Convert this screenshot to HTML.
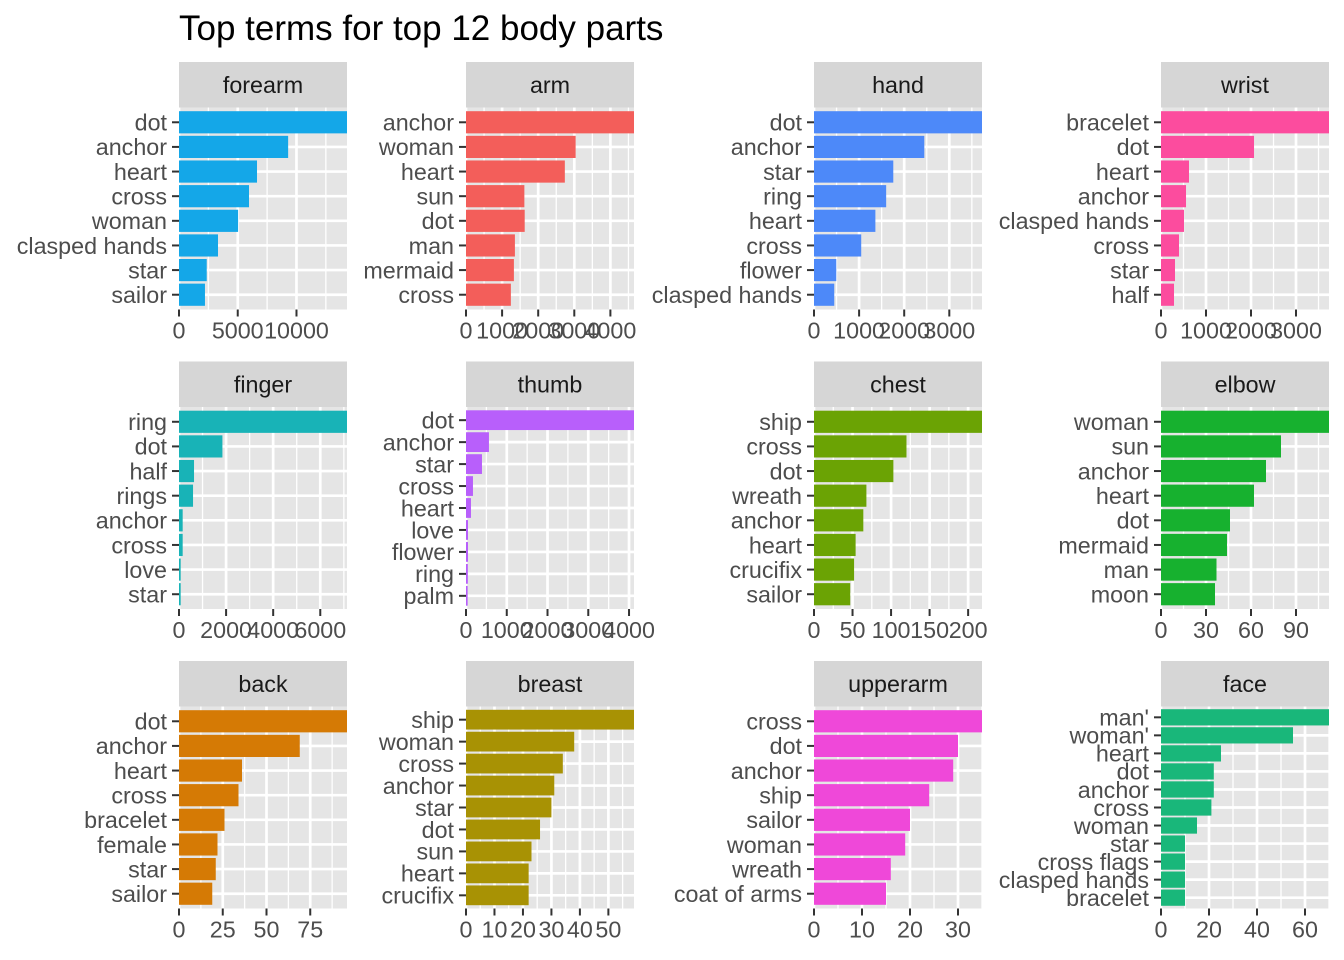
<!DOCTYPE html>
<html><head><meta charset="utf-8">
<style>
html,body{margin:0;padding:0;background:#fff;}
svg{display:block;font-family:"Liberation Sans",Arial,sans-serif;}
</style></head>
<body>
<svg id="chart" width="1344" height="960" viewBox="0 0 1344 960" xmlns="http://www.w3.org/2000/svg">
<text x="179" y="40" font-size="35" fill="#000">Top terms for top 12 body parts</text>
</svg>
<script>
// ---- data ----
const panelNames = ["forearm","arm","hand","wrist","finger","thumb","chest","elbow","back","breast","upperarm","face"];
const forearmTerms = ["dot","anchor","heart","cross","woman","clasped hands","star","sailor"];
const forearmCounts = [14300,9290,6640,5960,5030,3320,2360,2210];
const armTerms = ["anchor","woman","heart","sun","dot","man","mermaid","cross"];
const armCounts = [4654,3037,2738,1617,1626,1355,1327,1243];
const handTerms = ["dot","anchor","star","ring","heart","cross","flower","clasped hands"];
const handCounts = [3725,2446,1758,1600,1361,1047,494,449];
const wristTerms = ["bracelet","dot","heart","anchor","clasped hands","cross","star","half"];
const wristCounts = [3733,2067,622,556,511,400,311,289];
const fingerTerms = ["ring","dot","half","rings","anchor","cross","love","star"];
const fingerCounts = [7135,1844,638,596,156,156,71,71];
const thumbTerms = ["dot","anchor","star","cross","heart","love","flower","ring","palm"];
const thumbCounts = [4122,563,392,171,122,49,49,45,40];
const chestTerms = ["ship","cross","dot","wreath","anchor","heart","crucifix","sailor"];
const chestCounts = [218,120,103,68,64,54,52,47];
const elbowTerms = ["woman","sun","anchor","heart","dot","mermaid","man","moon"];
const elbowCounts = [112,80,70,62,46,44,37,36];
const backTerms = ["dot","anchor","heart","cross","bracelet","female","star","sailor"];
const backCounts = [96,69,36,34,26,22,21,19];
const breastTerms = ["ship","woman","cross","anchor","star","dot","sun","heart","crucifix"];
const breastCounts = [59,38,34,31,30,26,23,22,22];
const upperarmTerms = ["cross","dot","anchor","ship","sailor","woman","wreath","coat of arms"];
const upperarmCounts = [35,30,29,24,20,19,16,15];
const faceTerms = ["man'","woman'","heart","dot","anchor","cross","woman","star","cross flags","clasped hands","bracelet"];
const faceCounts = [70,55,25,22,22,21,15,10,10,10,10];
const forearmTicks = [0,5000,10000];
const armTicks = [0,1000,2000,3000,4000];
const handTicks = [0,1000,2000,3000];
const wristTicks = [0,1000,2000,3000];
const fingerTicks = [0,2000,4000,6000];
const thumbTicks = [0,1000,2000,3000,4000];
const chestTicks = [0,50,100,150,200];
const elbowTicks = [0,30,60,90];
const backTicks = [0,25,50,75];
const breastTicks = [0,10,20,30,40,50];
const upperarmTicks = [0,10,20,30];
const faceTicks = [0,20,40,60];

// ---- styling / layout (not data) ----
const colors = ["#14A7E8","#F35E5A","#4D89F9","#FC4C9E","#18B3B7","#B85FFB","#6BA304","#17B12F","#D57A05","#A89204","#EF48D9","#19B77A"];
const colX = [179,466,814,1161];
const rowY = [62,361.5,661];
const PW = 168, SH = 44, PH = 202;
const FS = 23.3;
const panels = [
 [forearmTerms,forearmCounts,forearmTicks],[armTerms,armCounts,armTicks],[handTerms,handCounts,handTicks],[wristTerms,wristCounts,wristTicks],
 [fingerTerms,fingerCounts,fingerTicks],[thumbTerms,thumbCounts,thumbTicks],[chestTerms,chestCounts,chestTicks],[elbowTerms,elbowCounts,elbowTicks],
 [backTerms,backCounts,backTicks],[breastTerms,breastCounts,breastTicks],[upperarmTerms,upperarmCounts,upperarmTicks],[faceTerms,faceCounts,faceTicks]
];
const NS = "http://www.w3.org/2000/svg";
const svg = document.getElementById("chart");
function mk(tag, attrs, parent){
  const e = document.createElementNS(NS, tag);
  for (const k in attrs) e.setAttribute(k, attrs[k]);
  (parent||svg).appendChild(e);
  return e;
}
panels.forEach((p, i) => {
  const [terms, counts, ticks] = p;
  const name = panelNames[i];
  const x0 = colX[i % 4], sy = rowY[Math.floor(i / 4)], y0 = sy + SH + 1.5;
  const g = mk("g", {});
  
  
  const maxV = Math.max(...counts);
  const xs = v => x0 + v / maxV * PW;
  const n = terms.length;
  const band = PH / (n - 1 + 1.2);
  const ys = k => y0 + (0.6 + k) * band;
  const strip = mk("rect", {x:x0, y:sy, width:PW, height:SH+1.5, fill:"#D6D6D6"}, g);
  
  
  const st = mk("text", {x:x0 + PW/2, y:sy + SH/2 + 9, "font-size":FS, "text-anchor":"middle", fill:"#1A1A1A"}, g);
  st.textContent = name;
  
  
  const bg = mk("rect", {x:x0, y:y0, width:PW, height:PH, fill:"#E5E5E5"}, g);
  
  
  const step = ticks[1] - ticks[0];
  for (let t = step/2; t <= maxV; t += step) {
    const gl = mk("line", {x1:xs(t), x2:xs(t), y1:y0, y2:y0+PH, stroke:"#fff", "stroke-width":1.3}, g);
    
    
  }
  ticks.forEach(t => {
    if (t > maxV) return;
    const gl = mk("line", {x1:xs(t), x2:xs(t), y1:y0, y2:y0+PH, stroke:"#fff", "stroke-width":2.7}, g);
    
    
  });
  terms.forEach((t, k) => {
    const gl = mk("line", {x1:x0, x2:x0+PW, y1:ys(k), y2:ys(k), stroke:"#fff", "stroke-width":2.7}, g);
    
    
  });
  terms.forEach((t, k) => {
    const b = mk("rect", {x:x0, y:ys(k) - band*0.45, width:xs(counts[k]) - x0, height:band*0.9, fill:colors[i]}, g);
    
    
    const tk = mk("line", {x1:x0-7, x2:x0, y1:ys(k), y2:ys(k), stroke:"#333", "stroke-width":2}, g);
    
    
    const lb = mk("text", {x:x0-12, y:ys(k) + 8.3, "font-size":FS, "text-anchor":"end", fill:"#4D4D4D"}, g);
    lb.textContent = t;
    
    
  });
  ticks.forEach(t => {
    if (t > maxV) return;
    const tk = mk("line", {x1:xs(t), x2:xs(t), y1:y0+PH, y2:y0+PH+7, stroke:"#333", "stroke-width":2}, g);
    
    
    const lb = mk("text", {x:xs(t), y:y0+PH+29, "font-size":FS, "text-anchor":"middle", fill:"#4D4D4D"}, g);
    lb.textContent = String(t);
    
    
  });
});
</script>
</body></html>
